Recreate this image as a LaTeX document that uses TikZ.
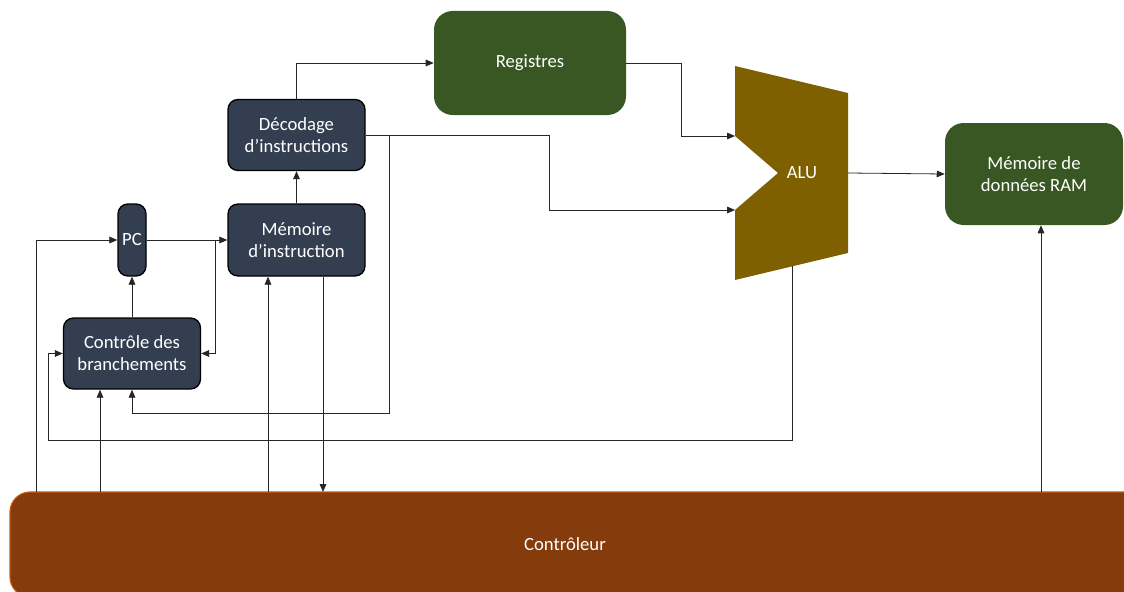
\documentclass[tikz,border=0pt]{standalone}
\usepackage{fontspec}
\setmainfont{Carlito}
\usetikzlibrary{arrows.meta}
\definecolor{navybox}{HTML}{333F50}
\definecolor{greenbox}{HTML}{385723}
\definecolor{alubox}{HTML}{7F6000}
\definecolor{ctrlbox}{HTML}{843C0C}
\definecolor{ctrledge}{HTML}{C55A11}
\begin{document}
\begin{tikzpicture}[x=0.75pt,y=-0.75pt,
    blk/.style={draw=black, line width=1pt, fill=navybox, rounded corners=7.5pt,
        text=white, align=center, inner sep=0pt,
        font=\fontsize{14}{16.5}\selectfont},
    grn/.style={fill=greenbox, rounded corners=14pt, text=white, align=center,
        inner sep=0pt, font=\fontsize{14}{16.5}\selectfont},
    arr/.style={draw=black!85, line width=0.6pt, -{Triangle[length=6pt,width=5pt]}}]
        \clip (0,0) rectangle (1124,592);

        \node[draw=ctrledge, line width=0.8pt, fill=ctrlbox, rounded corners=15pt,
            minimum width=855pt, minimum height=78.75pt] (ctrl) at (580,544.5) {};
        \node[text=white, font=\fontsize{14}{16.5}\selectfont] (ctrltxt) at (565,544) {Contrôleur};

        \node[blk, minimum width=21pt, minimum height=54pt] (pc) at (132,240) {PC};
        \node[blk, minimum width=102.75pt, minimum height=54pt] (meminst) at (296.5,240) {Mémoire\\d’instruction};
        \node[blk, minimum width=102.75pt, minimum height=53.25pt] (dec) at (296.5,135) {Décodage\\d’instructions};
        \node[blk, minimum width=102.75pt, minimum height=53.25pt] (brc) at (132,353.5) {Contrôle des\\branchements};
        \node[grn, minimum width=144pt, minimum height=78pt] (reg) at (530,63) {Registres};
        \node[grn, minimum width=133.5pt, minimum height=76.5pt] (ram) at (1034,174) {Mémoire de\\données RAM};

        \fill[alubox] (735,66) -- (848,93) -- (848,253) -- (735,280) -- (735,210)
            -- (778,173) -- (735,136) -- cycle;
        \node[text=white, font=\fontsize{14}{16.5}\selectfont] (alu) at (802,173) {ALU};
        \coordinate (alu-in1) at (735,136);
        \coordinate (alu-in2) at (735,210);
        \coordinate (alu-out) at (848,173);
        \coordinate (alu-bot) at (792,266);

        \coordinate (ctl-a) at (36,492);
        \coordinate (ctl-b) at (100,492);
        \coordinate (ctl-c) at (268,492);
        \coordinate (ctl-d) at (323,492);
        \coordinate (ctl-e) at (1041,492);
        \coordinate (j1) at (215,240);
        \coordinate (j2) at (549,210);
        \coordinate (j3) at (389,413);
        \coordinate (j4) at (681,136);
        \coordinate (j5) at (48,440);

        \draw[arr] (pc.east) -- (meminst.west);
        \draw[arr] (j1) |- (brc.east);
        \draw[arr] (ctl-a) |- (pc.west);
        \draw[arr] (brc.north) -- (pc.south);
        \draw[arr] (meminst.north) -- (dec.south);
        \draw[arr] (dec.north) |- (reg.west);
        \draw[arr] (dec.east) -| (j2) -- (alu-in2);
        \draw[arr] (dec.east -| j3) -- (j3) -| (brc.south);
        \draw[arr] (reg.east) -| (j4) -- (alu-in1);
        \draw[arr] (alu-out) -- (ram.west);
        \draw[arr] (alu-bot) |- (j5) |- (brc.west);
        \draw[arr] (ctl-b) -- (ctl-b |- brc.south);
        \draw[arr] (ctl-c) -- (ctl-c |- meminst.south);
        \draw[arr] (ctl-d |- meminst.south) -- (ctl-d);
        \draw[arr] (ctl-e) -- (ctl-e |- ram.south);
    \end{tikzpicture}
\end{document}
